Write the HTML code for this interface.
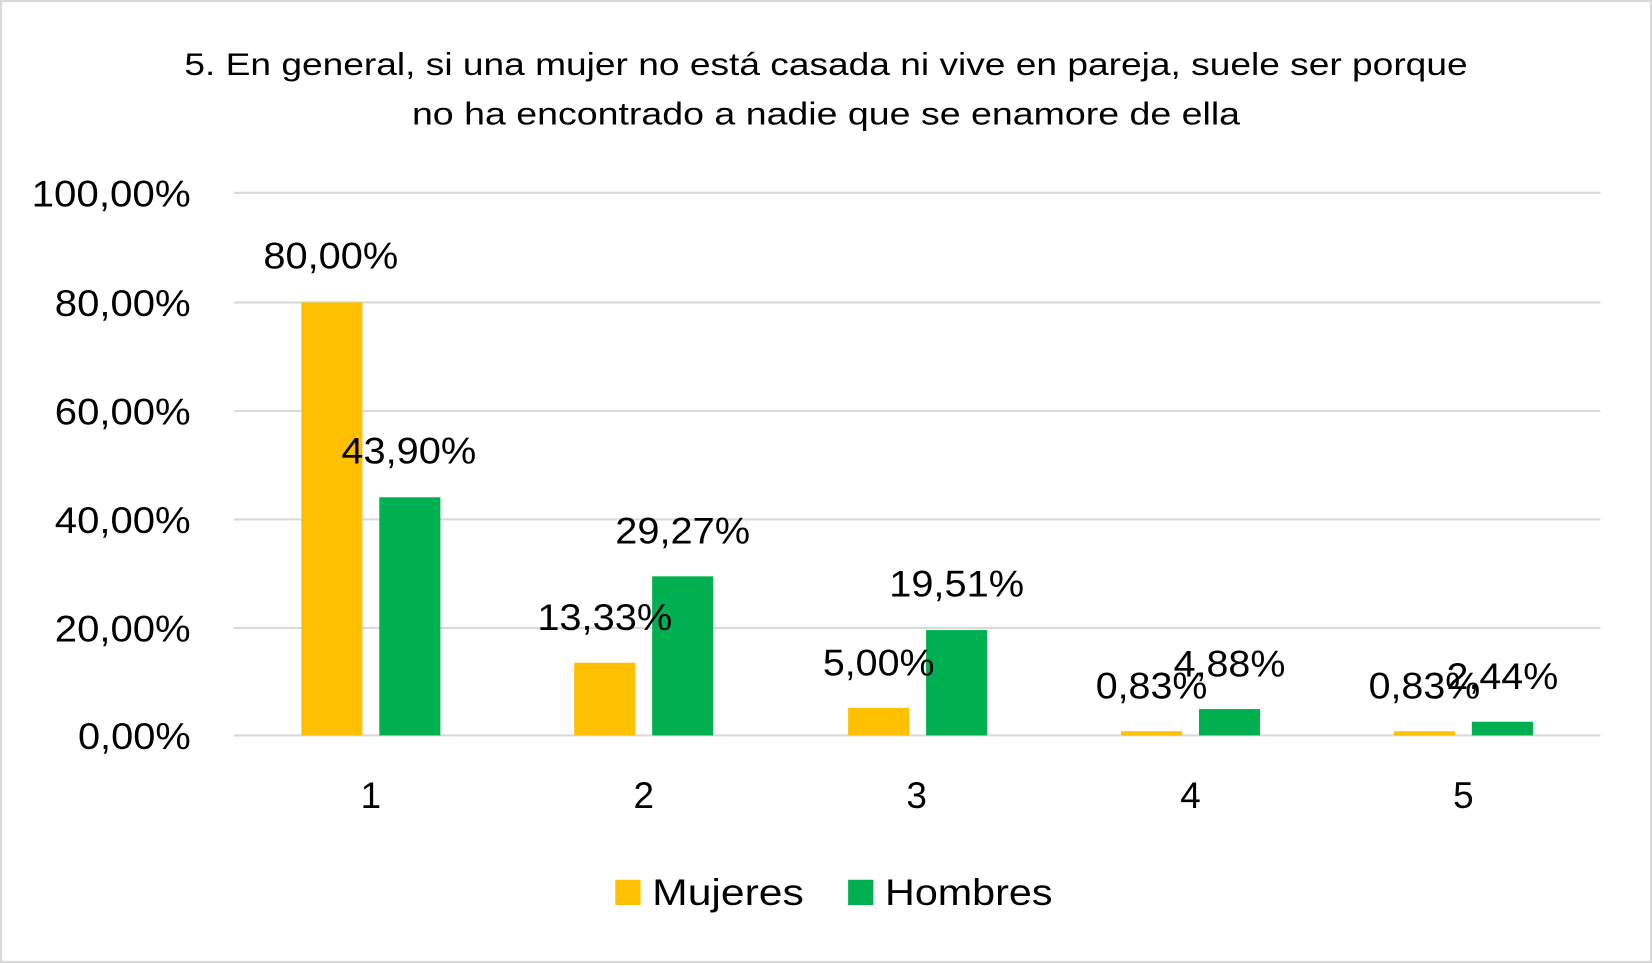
<!DOCTYPE html>
<html><head><meta charset="utf-8"><style>html,body{margin:0;padding:0;background:#fff}svg{display:block}</style></head>
<body>
<svg width="1652" height="963" viewBox="0 0 1568 914" preserveAspectRatio="none" xmlns="http://www.w3.org/2000/svg" font-family="Liberation Sans, sans-serif" fill="#000">
<rect x="1" y="1" width="1566" height="912" fill="#fff" stroke="#d9d9d9" stroke-width="2"/>
<text x="784" y="71" font-size="30" text-anchor="middle" textLength="1218" lengthAdjust="spacingAndGlyphs">5. En general, si una mujer no está casada ni vive en pareja, suele ser porque</text>
<text x="784" y="118" font-size="30" text-anchor="middle" textLength="786" lengthAdjust="spacingAndGlyphs">no ha encontrado a nadie que se enamore de ella</text>
<g stroke="#d9d9d9" stroke-width="2">
<line x1="222" x2="1519" y1="183" y2="183"/><line x1="222" x2="1519" y1="287" y2="287"/><line x1="222" x2="1519" y1="390" y2="390"/><line x1="222" x2="1519" y1="493" y2="493"/><line x1="222" x2="1519" y1="596" y2="596"/><line x1="222" x2="1519" y1="698" y2="698"/>
</g>
<g font-size="35" text-anchor="end" lengthAdjust="spacingAndGlyphs">
<text x="181" y="196" textLength="151" lengthAdjust="spacingAndGlyphs">100,00%</text><text x="181" y="300" textLength="129" lengthAdjust="spacingAndGlyphs">80,00%</text><text x="181" y="403" textLength="129" lengthAdjust="spacingAndGlyphs">60,00%</text><text x="181" y="506" textLength="129" lengthAdjust="spacingAndGlyphs">40,00%</text><text x="181" y="609" textLength="129" lengthAdjust="spacingAndGlyphs">20,00%</text><text x="181" y="711" textLength="107" lengthAdjust="spacingAndGlyphs">0,00%</text>
</g>
<g fill="#ffc000">
<rect x="286" y="287" width="58" height="411"/><rect x="545" y="629" width="58" height="69"/><rect x="805" y="672" width="58" height="26"/><rect x="1064" y="694" width="58" height="4"/><rect x="1323" y="694" width="58" height="4"/>
</g>
<g fill="#00b050">
<rect x="360" y="472" width="58" height="226"/><rect x="619" y="547" width="58" height="151"/><rect x="879" y="598" width="58" height="100"/><rect x="1138" y="673" width="58" height="25"/><rect x="1397" y="685" width="58" height="13"/>
</g>
<g font-size="35" text-anchor="middle">
<text x="314" y="255" textLength="128" lengthAdjust="spacingAndGlyphs">80,00%</text><text x="388" y="440" textLength="128" lengthAdjust="spacingAndGlyphs">43,90%</text>
<text x="574" y="598" textLength="128" lengthAdjust="spacingAndGlyphs">13,33%</text><text x="648" y="516" textLength="128" lengthAdjust="spacingAndGlyphs">29,27%</text>
<text x="834" y="641" textLength="106" lengthAdjust="spacingAndGlyphs">5,00%</text><text x="908" y="566" textLength="128" lengthAdjust="spacingAndGlyphs">19,51%</text>
<text x="1093" y="663" textLength="106" lengthAdjust="spacingAndGlyphs">0,83%</text><text x="1167" y="642" textLength="106" lengthAdjust="spacingAndGlyphs">4,88%</text>
<text x="1352" y="663" textLength="106" lengthAdjust="spacingAndGlyphs">0,83%</text><text x="1426" y="654" textLength="106" lengthAdjust="spacingAndGlyphs">2,44%</text>
<text x="352" y="767">1</text><text x="611" y="767">2</text><text x="870" y="767">3</text><text x="1130" y="767">4</text><text x="1389" y="767">5</text>
</g>
<rect x="584" y="835" width="24" height="24" fill="#ffc000"/>
<text x="619" y="859" font-size="35" textLength="144" lengthAdjust="spacingAndGlyphs">Mujeres</text>
<rect x="805" y="835" width="24" height="24" fill="#00b050"/>
<text x="840" y="859" font-size="35" textLength="159" lengthAdjust="spacingAndGlyphs">Hombres</text>
</svg>
</body></html>
